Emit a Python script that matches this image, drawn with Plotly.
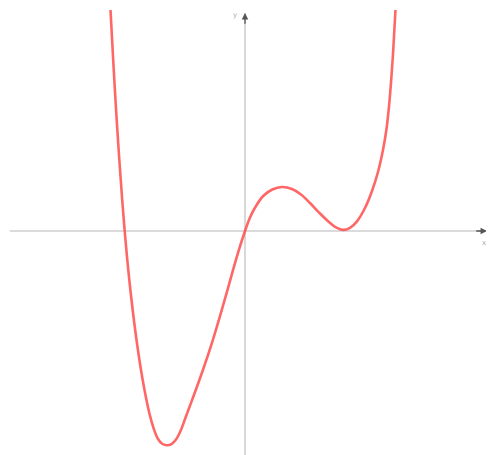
import plotly.graph_objects as go

# Curve points (1 unit ~ 49 px)
curve_x = [-2.745, -2.690, -2.631, -2.565, -2.506, -2.455, -2.402, -2.316, -2.214, -2.088,
           -1.953, -1.867, -1.776, -1.684, -1.592, -1.500, -1.408, -1.316, -1.224, -1.141,
           -1.057, -0.859, -0.676,
           -0.510, -0.341, -0.157, 0.0, 0.098, 0.200, 0.371, 0.557, 0.755, 0.959,
           1.143, 1.327, 1.531, 1.714, 1.857, 2.0, 2.143, 2.286, 2.449, 2.592,
           2.714, 2.816, 2.888, 2.939, 2.980, 3.020, 3.071]
curve_y = [4.510, 3.490, 2.469, 1.449, 0.633, 0.0, -0.592, -1.408, -2.224, -3.041,
           -3.714, -4.020, -4.245, -4.347, -4.373, -4.347, -4.255, -4.082, -3.837, -3.612,
           -3.388, -2.837, -2.286,
           -1.735, -1.143, -0.490, 0.0, 0.265, 0.469, 0.714, 0.847, 0.898, 0.857,
           0.745, 0.571, 0.357, 0.184, 0.076, 0.024, 0.065, 0.198, 0.469, 0.816,
           1.204, 1.653, 2.082, 2.541, 3.031, 3.602, 4.510]

x_axis_span = [-4.80, 4.94]
y_axis_span = [-4.60, 4.45]

fig = go.Figure()
fig.add_trace(go.Scatter(x=curve_x, y=curve_y, mode="lines", line_shape="spline",
                         line=dict(color="rgba(255,75,75,0.85)", width=2.6, smoothing=1.0),
                         hoverinfo="skip", showlegend=False))

axis_col = "#cfcfcf"
fig.add_shape(type="line", x0=x_axis_span[0], x1=x_axis_span[1], y0=0, y1=0,
              line=dict(color=axis_col, width=1.6), layer="below")
fig.add_shape(type="line", x0=0, x1=0, y0=y_axis_span[0], y1=y_axis_span[1],
              line=dict(color=axis_col, width=1.6), layer="below")

# arrow tips
fig.add_annotation(x=x_axis_span[1], y=0, ax=x_axis_span[1] - 0.25, ay=0,
                   xref="x", yref="y", axref="x", ayref="y", text="", showarrow=True,
                   arrowhead=2, arrowsize=1, arrowwidth=1.3, arrowcolor="#555555")
fig.add_annotation(x=0, y=y_axis_span[1], ax=0, ay=y_axis_span[1] - 0.25,
                   xref="x", yref="y", axref="x", ayref="y", text="", showarrow=True,
                   arrowhead=2, arrowsize=1, arrowwidth=1.3, arrowcolor="#555555")
fig.add_annotation(x=4.88, y=-0.25, text="x", showarrow=False,
                   font=dict(size=7, color="#aaaaaa", family="DejaVu Sans"))
fig.add_annotation(x=-0.2, y=4.40, text="y", showarrow=False,
                   font=dict(size=7, color="#aaaaaa", family="DejaVu Sans"))

fig.update_layout(
    width=486, height=447,
    margin=dict(l=0, r=0, t=0, b=0),
    paper_bgcolor="white", plot_bgcolor="white",
    xaxis=dict(range=[-4.837, 5.082], visible=False, fixedrange=True),
    yaxis=dict(range=[-4.571, 4.551], visible=False, fixedrange=True),
    showlegend=False,
)

fig.write_html("out.html")
